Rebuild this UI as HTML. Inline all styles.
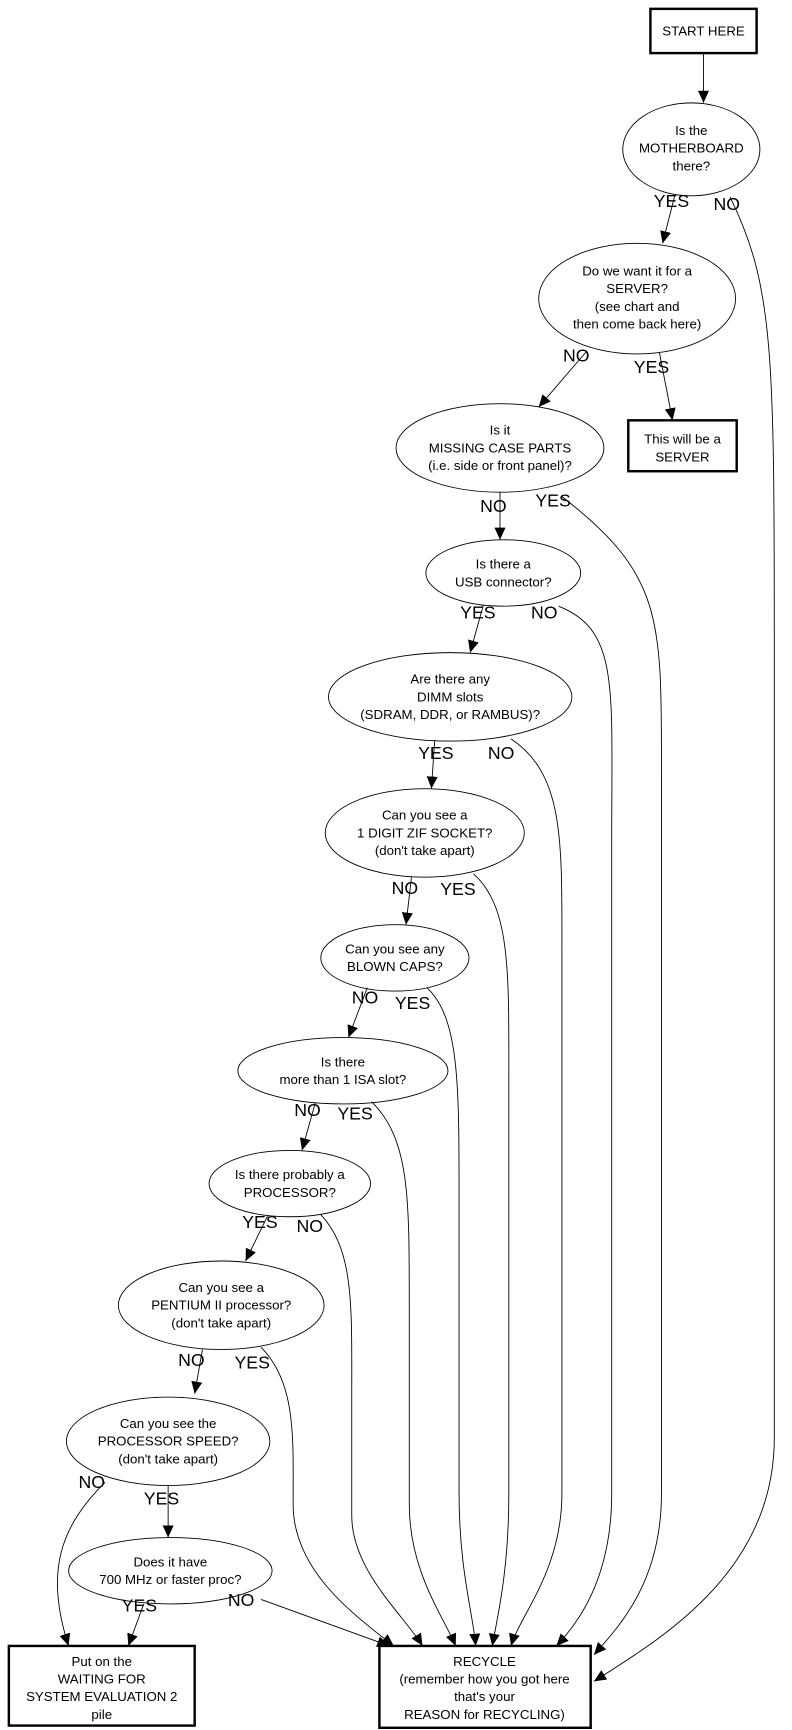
<!DOCTYPE html>
<html><head><meta charset="utf-8"><style>
html,body{margin:0;padding:0;background:#fff}
svg{display:block}
text{font-family:"Liberation Sans",sans-serif;font-size:12px;fill:#000;text-anchor:middle}
.l{font-size:16px}
.e{fill:none;stroke:#000;stroke-width:0.8}
.b{fill:none;stroke:#000;stroke-width:2.2}
.c{fill:none;stroke:#000;stroke-width:0.8;marker-end:url(#a)}
</style></head><body>
<svg width="792" height="1730" viewBox="0 0 716 1564" xmlns="http://www.w3.org/2000/svg">
<defs><marker id="a" markerUnits="userSpaceOnUse" markerWidth="12" markerHeight="10" refX="11" refY="5" orient="auto"><path d="M0,0 L11,5 L0,10 z" fill="#000"/></marker></defs>

<!-- nodes -->
<rect class="b" x="588" y="8" width="96" height="40"/>
<text x="636" y="32">START HERE</text>

<ellipse class="e" cx="625" cy="135" rx="62" ry="42"/>
<text x="625" y="122">Is the</text><text x="625" y="138">MOTHERBOARD</text><text x="625" y="154">there?</text>

<ellipse class="e" cx="576" cy="270" rx="89" ry="50"/>
<text x="576" y="249">Do we want it for a</text><text x="576" y="265">SERVER?</text><text x="576" y="281">(see chart and</text><text x="576" y="297">then come back here)</text>

<rect class="b" x="568" y="380" width="98" height="46"/>
<text x="617" y="401">This will be a</text><text x="617" y="417">SERVER</text>

<ellipse class="e" cx="452" cy="405" rx="94" ry="40"/>
<text x="452" y="393">Is it</text><text x="452" y="409">MISSING CASE PARTS</text><text x="452" y="425">(i.e. side or front panel)?</text>

<ellipse class="e" cx="455" cy="518" rx="70" ry="30"/>
<text x="455" y="514">Is there a</text><text x="455" y="530">USB connector?</text>

<ellipse class="e" cx="407" cy="630" rx="110" ry="40"/>
<text x="407" y="618">Are there any</text><text x="407" y="634">DIMM slots</text><text x="407" y="650">(SDRAM, DDR, or RAMBUS)?</text>

<ellipse class="e" cx="384" cy="753" rx="90" ry="40"/>
<text x="384" y="741">Can you see a</text><text x="384" y="757">1 DIGIT ZIF SOCKET?</text><text x="384" y="773">(don't take apart)</text>

<ellipse class="e" cx="357" cy="866" rx="67" ry="30"/>
<text x="357" y="862">Can you see any</text><text x="357" y="878">BLOWN CAPS?</text>

<ellipse class="e" cx="310" cy="968" rx="95" ry="30"/>
<text x="310" y="964">Is there</text><text x="310" y="980">more than 1 ISA slot?</text>

<ellipse class="e" cx="262" cy="1070" rx="73" ry="30"/>
<text x="262" y="1066">Is there probably a</text><text x="262" y="1082">PROCESSOR?</text>

<ellipse class="e" cx="200" cy="1180" rx="93" ry="40"/>
<text x="200" y="1168">Can you see a</text><text x="200" y="1184">PENTIUM II processor?</text><text x="200" y="1200">(don't take apart)</text>

<ellipse class="e" cx="152" cy="1303" rx="92" ry="40"/>
<text x="152" y="1291">Can you see the</text><text x="152" y="1307">PROCESSOR SPEED?</text><text x="152" y="1323">(don't take apart)</text>

<ellipse class="e" cx="154" cy="1420" rx="92" ry="30"/>
<text x="154" y="1416">Does it have</text><text x="154" y="1432">700 MHz or faster proc?</text>

<rect class="b" x="8" y="1488" width="168" height="72"/>
<text x="92" y="1506">Put on the</text><text x="92" y="1522">WAITING FOR</text><text x="92" y="1538">SYSTEM EVALUATION 2</text><text x="92" y="1554">pile</text>

<rect class="b" x="343" y="1488" width="191" height="74"/>
<text x="438" y="1506">RECYCLE</text><text x="438" y="1522">(remember how you got here</text><text x="438" y="1538">that's your</text><text x="438" y="1554">REASON for RECYCLING)</text>

<!-- straight edges -->
<path class="c" d="M636,48 L636,93"/>
<path class="c" d="M610,177 L599,220"/>
<path class="c" d="M530,318 L487,368"/>
<path class="c" d="M596,318 L608,380"/>
<path class="c" d="M452,445 L452,488"/>
<path class="c" d="M437,547 L425,590"/>
<path class="c" d="M393,669 L390,713"/>
<path class="c" d="M372,793 L367,836"/>
<path class="c" d="M332,893 L315,938"/>
<path class="c" d="M285,997 L273,1040"/>
<path class="c" d="M242,1099 L222,1140"/>
<path class="c" d="M183,1220 L176,1260"/>
<path class="c" d="M152,1343 L152,1390"/>
<path class="c" d="M130,1450 L116,1488"/>
<path class="c" d="M95,1340 C55,1380 40,1420 62,1488"/>
<path class="c" d="M236,1446 L352,1488"/>

<!-- curves to recycle -->
<path class="c" d="M660,178 C700,260 700,320 700,600 L700,1300 C700,1420 600,1480 537,1520"/>
<path class="c" d="M508,449 C600,520 598,560 598,700 L598,1350 C598,1430 560,1470 537,1496"/>
<path class="c" d="M505,548 C560,570 553,620 553,760 L553,1350 C553,1430 520,1470 503,1488"/>
<path class="c" d="M462,668 C510,700 508,760 508,860 L508,1350 C508,1420 470,1460 462,1488"/>
<path class="c" d="M428,790 C462,820 460,880 460,980 L460,1350 C460,1420 450,1460 445,1488"/>
<path class="c" d="M386,893 C415,920 415,980 415,1080 L415,1350 C415,1420 428,1460 430,1488"/>
<path class="c" d="M336,996 C370,1030 370,1080 370,1180 L370,1360 C370,1420 400,1460 412,1488"/>
<path class="c" d="M290,1098 C320,1130 318,1180 318,1260 L318,1370 C318,1420 365,1460 382,1488"/>
<path class="c" d="M236,1218 C268,1250 265,1300 265,1360 C265,1420 320,1460 356,1488"/>

<!-- labels -->
<text class="l" x="607" y="187">YES</text><text class="l" x="657" y="190">NO</text>
<text class="l" x="521" y="327">NO</text><text class="l" x="589" y="337">YES</text>
<text class="l" x="446" y="463">NO</text><text class="l" x="500" y="458">YES</text>
<text class="l" x="432" y="559">YES</text><text class="l" x="492" y="559">NO</text>
<text class="l" x="394" y="686">YES</text><text class="l" x="453" y="686">NO</text>
<text class="l" x="366" y="808">NO</text><text class="l" x="414" y="809">YES</text>
<text class="l" x="330" y="907">NO</text><text class="l" x="373" y="912">YES</text>
<text class="l" x="278" y="1009">NO</text><text class="l" x="321" y="1012">YES</text>
<text class="l" x="235" y="1110">YES</text><text class="l" x="280" y="1114">NO</text>
<text class="l" x="173" y="1235">NO</text><text class="l" x="228" y="1237">YES</text>
<text class="l" x="83" y="1345">NO</text><text class="l" x="146" y="1360">YES</text>
<text class="l" x="126" y="1457">YES</text><text class="l" x="218" y="1452">NO</text>
</svg>
</body></html>
